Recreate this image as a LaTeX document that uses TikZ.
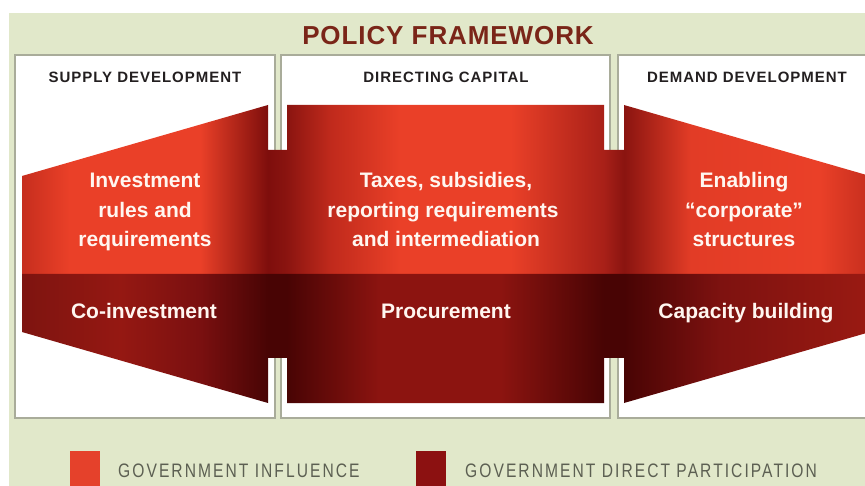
\documentclass[tikz,border=0pt]{standalone}
\usepackage{fontspec}
\setmainfont{Liberation Sans}
\newfontfamily\headfont[LetterSpace=6.5]{Liberation Sans}
\newfontfamily\titlefont[LetterSpace=3.5]{Liberation Sans}
\newfontfamily\legfont[FakeStretch=0.8,LetterSpace=10.5]{Liberation Sans}

\definecolor{bg}{HTML}{E1E8CA}
\definecolor{panelline}{HTML}{A9AC9A}
\definecolor{titlered}{HTML}{7A2518}
\definecolor{headtext}{HTML}{231F20}
\definecolor{legtext}{HTML}{5C5F52}
\definecolor{influence}{HTML}{E5412B}
\definecolor{direct}{HTML}{8C1111}
\definecolor{redtext}{HTML}{FFF6F0}
% upper band colours
\definecolor{uA}{HTML}{C62E1E}
\definecolor{uB}{HTML}{EA4028}
\definecolor{uD}{HTML}{7E0E0C}
\definecolor{uDD}{HTML}{8A1410}
\definecolor{uM}{HTML}{C02A1C}
\definecolor{uE}{HTML}{A82018}
\definecolor{uF}{HTML}{E23C26}
% lower band colours
\definecolor{lA}{HTML}{7E1410}
\definecolor{lB}{HTML}{951812}
\definecolor{lC}{HTML}{7A1010}
\definecolor{lD}{HTML}{480404}
\definecolor{lBB}{HTML}{8C1410}
\definecolor{lE}{HTML}{7E1210}
\definecolor{lF}{HTML}{9A1A12}

\pgfdeclarehorizontalshading{uppershade}{100bp}{%
color(0bp)=(uA); color(25bp)=(uA); color(27.8bp)=(uB); color(35.5bp)=(uB);
color(39.5bp)=(uD); color(40.6bp)=(uDD); color(43.2bp)=(uM); color(47.3bp)=(uB);
color(53.8bp)=(uB); color(59.3bp)=(uE); color(60.5bp)=(uDD); color(64.4bp)=(uF);
color(72bp)=(uB); color(75bp)=(uA); color(100bp)=(uA)}
\pgfdeclarehorizontalshading{lowershade}{100bp}{%
color(0bp)=(lA); color(25bp)=(lA); color(30.8bp)=(lB); color(35.5bp)=(lC);
color(39.5bp)=(lD); color(40.6bp)=(lD); color(46.1bp)=(lBB); color(53.2bp)=(lBB);
color(59.3bp)=(lD); color(60.5bp)=(lD); color(66.2bp)=(lE); color(75bp)=(lF);
color(100bp)=(lF)}

\tikzset{
  panel/.style={draw=panelline, line width=1.3pt, fill=white},
  heading/.style={anchor=base, text=headtext, font=\headfont\bfseries\fontsize{15}{18}\selectfont, inner sep=0pt},
  redlabel/.style={anchor=base, text=redtext, font=\bfseries\fontsize{21}{25}\selectfont, inner sep=0pt},
  legendlabel/.style={anchor=base west, text=legtext, font=\legfont\fontsize{19.5}{22}\selectfont, inner sep=0pt},
  legendbox/.style={draw=none, minimum width=30pt, minimum height=36pt, inner sep=0pt, anchor=north west}
}

\begin{document}
\begin{tikzpicture}[x=1pt,y=-1pt]
\useasboundingbox (0,0) rectangle (865,486);
% background
\fill[white] (0,0) rectangle (865,486);
\fill[bg] (9,13) rectangle (875,500);
% panels
\draw[panel] (15,55) rectangle (275,418);
\draw[panel] (281,55) rectangle (610,418);
\draw[panel] (618,55) rectangle (880,418);
% title
\node[anchor=base, text=titlered, font=\titlefont\bfseries\fontsize{26}{30}\selectfont, inner sep=0pt] (title) at (448,45) {POLICY FRAMEWORK};
% headings
\node[heading] (h1) at (145,83) {SUPPLY DEVELOPMENT};
\node[heading] (h2) at (446,83) {DIRECTING CAPITAL};
\node[heading] (h3) at (747,83) {DEMAND DEVELOPMENT};
% red shapes
\shade[shading=uppershade] (22,176) -- (268,105) -- (268,150) -- (287,150) -- (287,105)
  -- (604,105) -- (604,150) -- (624,150) -- (624,105) -- (870,176) -- (870,274)
  -- (22,274) -- cycle;
\shade[shading=lowershade] (22,274) -- (870,274) -- (870,332) -- (624,403) -- (624,358)
  -- (604,358) -- (604,403) -- (287,403) -- (287,358) -- (268,358) -- (268,403)
  -- (22,332) -- cycle;
% texts left
\node[redlabel] (l1) at (145,188) {Investment};
\node[redlabel] (l2) at (145,217.5) {rules and};
\node[redlabel] (l3) at (145,247) {requirements};
\node[redlabel] (l4) at (144,319) {Co-investment};
% texts middle
\node[redlabel] (m1) at (446,188) {Taxes, subsidies,};
\node[redlabel] (m2) at (443,217.5) {reporting requirements};
\node[redlabel] (m3) at (446,247) {and intermediation};
\node[redlabel] (m4) at (446,319) {Procurement};
% texts right
\node[redlabel] (r1) at (744,188) {Enabling};
\node[redlabel] (r2) at (744,217.5) {“corporate”};
\node[redlabel] (r3) at (744,247) {structures};
\node[redlabel] (r4) at (746,319) {Capacity building};
% legend
\node[legendbox, fill=influence] (k1) at (70,451) {};
\node[legendbox, fill=direct] (k2) at (416,451) {};
\node[legendlabel] (t1) at (118,477) {GOVERNMENT INFLUENCE};
\node[legendlabel] (t2) at (465,477) {GOVERNMENT DIRECT PARTICIPATION};
\end{tikzpicture}
\end{document}
